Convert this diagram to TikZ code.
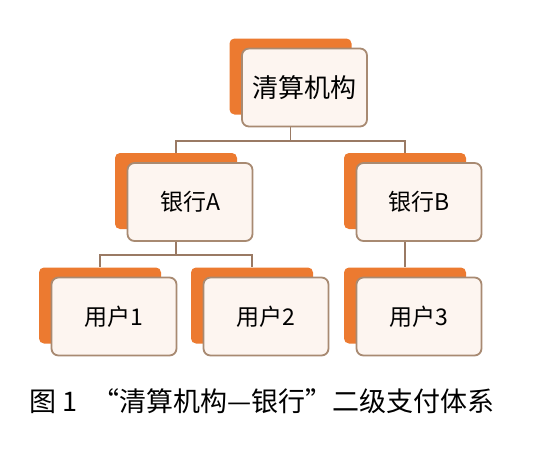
\documentclass[tikz,border=0pt]{standalone}
\usepackage{fontspec}
\newfontfamily\cjk{Noto Sans CJK SC}
\usetikzlibrary{calc}
\definecolor{tabfill}{HTML}{EC7A30}
\definecolor{cardfill}{HTML}{FDF5F0}
\definecolor{cardline}{HTML}{A88A72}
\definecolor{linkcol}{HTML}{9A7A64}

\begin{document}
\begin{tikzpicture}[
        x = 1pt, y = 1pt,
        tab/.style = {fill = tabfill, rounded corners = 5pt, minimum width = 122pt,
                      minimum height = 76pt, inner sep = 0pt},
        card/.style = {fill = cardfill, draw = cardline, line width = 1.8pt,
                       rounded corners = 7pt, minimum width = 125pt, minimum height = 78pt,
                       font = \cjk\fontsize{23}{26}\selectfont},
        level distance = 114.5pt,
        level 1/.style = {sibling distance = 229pt},
        level 2/.style = {sibling distance = 152pt},
        edge from parent/.style = {draw = linkcol, line width = 1.8pt},
        edge from parent path = {(\tikzparentnode.south) -- ++(0,-26) -| (\tikzchildnode.north)},
        ]
    \fill[white] (0,0) rectangle (540,-461);
    \useasboundingbox (0,0) rectangle (540,-461);
    % orange tabs, one per entity
    \node[tab] (clrT) at (290.5,-76.5) {}
        child {node[tab] (bankAT) {}
            child {node[tab] (user1T) {}}
            child {node[tab] (user2T) {}}}
        child {node[tab] (bankBT) {}
            child {node[tab] (user3T) {}}};
    % cards on top
    \node[card, font = \cjk\fontsize{26}{30}\selectfont] (clr) at ($(clrT)+(14,-11)$) {清算机构};
    \foreach \n/\t in {bankA/银行A, bankB/银行B, user1/用户1, user2/用户2, user3/用户3}
        \node[card] (\n) at ($(\n T)+(14,-11)$) {\t};
    \node[font = \cjk\fontsize{27}{30}\selectfont] (caption) at (262,-401)
        {图 1\hspace{0.55em}“清算机构—银行”二级支付体系};
\end{tikzpicture}
\end{document}
